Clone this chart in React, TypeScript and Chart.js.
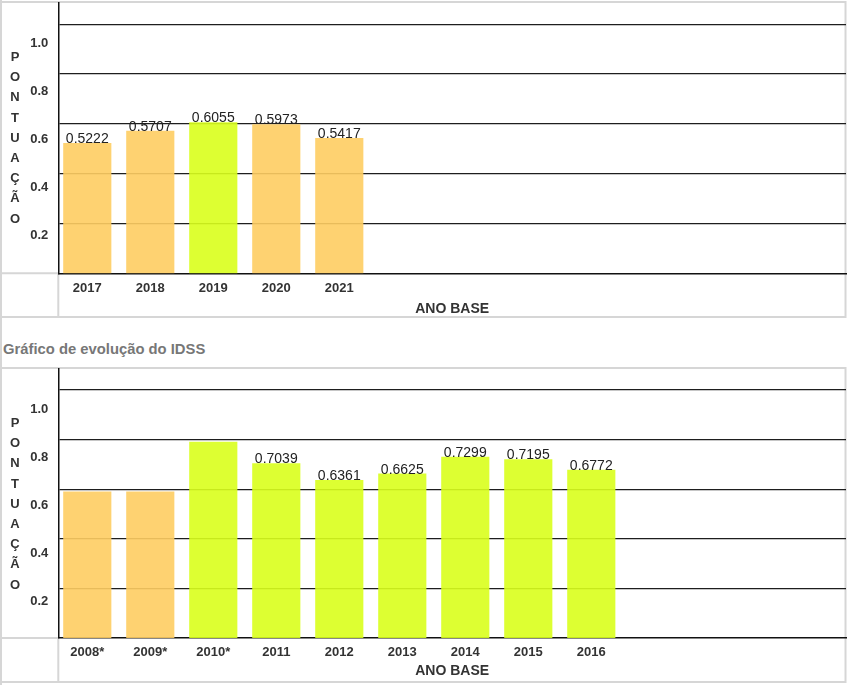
import React, { useEffect, useRef } from 'react';
import { Chart, registerables } from 'chart.js';

Chart.register(...registerables);

// ---------- data ----------
const recentYears = ['2017', '2018', '2019', '2020', '2021'];
const recentScores = [0.5222, 0.5707, 0.6055, 0.5973, 0.5417];
const recentShowValue = [true, true, true, true, true];

const historyYears = ['2008*', '2009*', '2010*', '2011', '2012', '2013', '2014', '2015', '2016'];
const historyScores = [0.59, 0.59, 0.79, 0.7039, 0.6361, 0.6625, 0.7299, 0.7195, 0.6772];
const historyShowValue = [false, false, false, true, true, true, true, true, true];

const scoreTicks = [0.2, 0.4, 0.6, 0.8, 1.0];
const yAxisLetters = ['P', 'O', 'N', 'T', 'U', 'A', 'Ç', 'Ã', 'O'];
const xAxisTitle = 'ANO BASE';
const pageTitle = 'Gráfico de evolução do IDSS';

// ---------- styles ----------
const FONT = '"Liberation Sans", Arial, Helvetica, sans-serif';
const ORANGE = 'rgba(254, 205, 98, 0.9)';
const GREEN = 'rgba(217, 255, 28, 0.9)';
const recentColors = [ORANGE, ORANGE, GREEN, ORANGE, ORANGE];
const historyColors = [ORANGE, ORANGE, GREEN, GREEN, GREEN, GREEN, GREEN, GREEN, GREEN];
const FRAME = '#d6d6d6';

const W = 847;
const PLOT_TOP = 3;
const PLOT_LEFT = 58.3;
const PLOT_RIGHT = 846;
const SLOT = 63;
const X_MIN = -0.46;
const X_MAX = X_MIN + (PLOT_RIGHT - PLOT_LEFT) / SLOT;
const Y_MAX = 1.085;
const LABEL_MAX = 1.168;

type Props = {
  years: string[];
  scores: number[];
  showValue: boolean[];
  colors: string[];
  height: number;
  axisBottom: number;
  titlePad: number;
};

function ScoreChart({ years, scores, showValue, colors, height, axisBottom, titlePad }: Props) {
  const ref = useRef<HTMLCanvasElement>(null);

  useEffect(() => {
    if (!ref.current) return;

    const framePlugin = {
      id: 'frame',
      beforeDraw(chart: any) {
        const { ctx, chartArea: a } = chart;
        const h = chart.height;
        ctx.save();
        ctx.strokeStyle = FRAME;
        ctx.lineWidth = 2;
        ctx.strokeRect(1, 2, W - 2.5, h - 5);
        ctx.beginPath();
        ctx.moveTo(1, 0);
        ctx.lineTo(1, h);
        ctx.moveTo(1, a.bottom);
        ctx.lineTo(a.left, a.bottom);
        ctx.moveTo(a.left, a.bottom);
        ctx.lineTo(a.left, h - 3);
        ctx.stroke();
        ctx.restore();
      },
    };

    const valuePlugin = {
      id: 'values',
      afterDatasetsDraw(chart: any) {
        const { ctx } = chart;
        const meta = chart.getDatasetMeta(0);
        ctx.save();
        ctx.font = `normal 14px ${FONT}`;
        ctx.fillStyle = '#222';
        ctx.textAlign = 'center';
        ctx.textBaseline = 'middle';
        meta.data.forEach((bar: any, i: number) => {
          if (!showValue[i]) return;
          ctx.fillText(scores[i].toFixed(4), bar.x, bar.y - 4);
        });
        ctx.restore();
      },
    };

    const lettersPlugin = {
      id: 'letters',
      afterDraw(chart: any) {
        const { ctx } = chart;
        ctx.save();
        ctx.font = `bold 13px ${FONT}`;
        ctx.fillStyle = '#333';
        ctx.textAlign = 'center';
        ctx.textBaseline = 'middle';
        yAxisLetters.forEach((ch, i) => {
          ctx.fillText(ch, 15, 57.5 + i * 20.2);
        });
        ctx.restore();
      },
    };

    const labelMin = LABEL_MAX - (axisBottom - PLOT_TOP) / 240;

    const chart = new Chart(ref.current, {
      type: 'bar',
      data: {
        datasets: [
          {
            data: scores.map((v, i) => ({ x: i, y: v })),
            backgroundColor: colors,
            borderWidth: 0,
            barThickness: 47.5,
          } as any,
        ],
      },
      options: {
        animation: false,
        responsive: false,
        maintainAspectRatio: false,
        events: [],
        layout: { padding: { top: PLOT_TOP, right: W - PLOT_RIGHT, left: 0, bottom: 0 } },
        plugins: {
          legend: { display: false },
          tooltip: { enabled: false },
          title: { display: false },
        },
        scales: {
          x: {
            type: 'linear',
            offset: false,
            min: X_MIN,
            max: X_MAX,
            afterBuildTicks: (s: any) => {
              s.ticks = years.map((_, i) => ({ value: i }));
            },
            afterFit: (s: any) => {
              s.height = height - axisBottom;
              s.paddingLeft = 0;
              s.paddingRight = 0;
            },
            grid: { display: false, drawTicks: false },
            border: { display: true, color: '#111', width: 1.5 },
            ticks: {
              autoSkip: false,
              maxRotation: 0,
              padding: 7,
              color: '#333',
              font: { family: FONT, size: 13, weight: 'bold' },
              callback: (v: any) => years[Math.round(Number(v))] ?? '',
            },
            title: {
              display: true,
              text: xAxisTitle,
              color: '#333',
              font: { family: FONT, size: 14, weight: 'bold' },
              padding: { top: 0, bottom: titlePad },
            },
          },
          y: {
            type: 'linear',
            position: 'left',
            weight: 0,
            min: 0,
            max: Y_MAX,
            afterBuildTicks: (s: any) => {
              s.ticks = scoreTicks.map((v) => ({ value: v }));
            },
            afterFit: (s: any) => {
              s.width = 0;
              s.paddingTop = 0;
              s.paddingBottom = 0;
            },
            grid: { color: '#1e1e1e', lineWidth: 1.2, drawTicks: false },
            border: { display: true, color: '#111', width: 1.5 },
            ticks: { display: false },
          },
          yLabels: {
            type: 'linear',
            axis: 'y',
            position: 'left',
            weight: 1,
            min: labelMin,
            max: LABEL_MAX,
            afterBuildTicks: (s: any) => {
              s.ticks = scoreTicks.map((v) => ({ value: v }));
            },
            afterFit: (s: any) => {
              s.width = PLOT_LEFT;
              s.paddingTop = 0;
              s.paddingBottom = 0;
            },
            grid: { display: false, drawTicks: false },
            border: { display: false },
            ticks: {
              padding: 10,
              color: '#333',
              font: { family: FONT, size: 13, weight: 'bold' },
              callback: (v: any) => Number(v).toFixed(1),
            },
          },
        } as any,
      },
      plugins: [framePlugin, valuePlugin, lettersPlugin],
    });

    return () => chart.destroy();
  }, []);

  return <canvas ref={ref} width={W} height={height} style={{ display: 'block', width: W, height }} />;
}

export default function App() {
  return (
    <div style={{ width: W, fontFamily: FONT, background: '#fff' }}>
      <style>{'body{margin:0;background:#fff;}'}</style>
      <ScoreChart
        years={recentYears}
        scores={recentScores}
        showValue={recentShowValue}
        colors={recentColors}
        height={320}
        axisBottom={273.3}
        titlePad={2.6}
      />
      <div
        style={{
          height: 46,
          boxSizing: 'border-box',
          borderLeft: `2px solid ${FRAME}`,
          position: 'relative',
        }}
      >
        <span
          style={{
            position: 'absolute',
            left: 1,
            top: 20,
            lineHeight: '18px',
            fontSize: 14.8,
            fontWeight: 'bold',
            color: '#777',
            whiteSpace: 'nowrap',
          }}
        >
          {pageTitle}
        </span>
      </div>
      <ScoreChart
        years={historyYears}
        scores={historyScores}
        showValue={historyShowValue}
        colors={historyColors}
        height={319}
        axisBottom={272}
        titlePad={5.9}
      />
    </div>
  );
}
